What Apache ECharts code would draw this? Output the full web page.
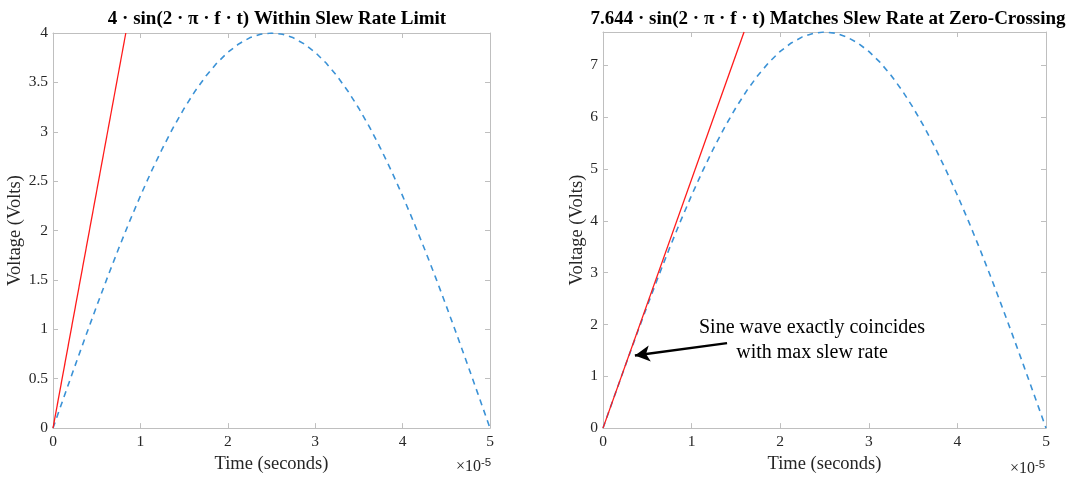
<!DOCTYPE html>
<html>
<head>
<meta charset="utf-8">
<script src="https://cdn.jsdelivr.net/npm/echarts@6/dist/echarts.min.js"></script>
<style>
  html, body { margin: 0; padding: 0; background: #fff; }
  #chart { width: 1089px; height: 479px; }
</style>
</head>
<body>
<div id="chart"></div>
<script>
{
    // time in units of 1e-5 s
    const time = [0, 0.125, 0.25, 0.375, 0.5, 0.625, 0.75, 0.875, 1, 1.125, 1.25, 1.375, 1.5, 1.625, 1.75, 1.875,
        2, 2.125, 2.25, 2.375, 2.5, 2.625, 2.75, 2.875, 3, 3.125, 3.25, 3.375, 3.5, 3.625, 3.75, 3.875,
        4, 4.125, 4.25, 4.375, 4.5, 4.625, 4.75, 4.875, 5];
    const sineLeft = [0, 0.314, 0.626, 0.934, 1.236, 1.531, 1.816, 2.090, 2.351, 2.598, 2.828, 3.042, 3.236, 3.411, 3.564, 3.696,
        3.804, 3.889, 3.951, 3.988, 4, 3.988, 3.951, 3.889, 3.804, 3.696, 3.564, 3.411, 3.236, 3.042, 2.828, 2.598,
        2.351, 2.090, 1.816, 1.531, 1.236, 0.934, 0.626, 0.314, 0];
    const sineRight = [0, 0.600, 1.196, 1.785, 2.362, 2.925, 3.470, 3.994, 4.493, 4.964, 5.405, 5.813, 6.184, 6.518, 6.811, 7.062,
        7.270, 7.433, 7.550, 7.620, 7.644, 7.620, 7.550, 7.433, 7.270, 7.062, 6.811, 6.518, 6.184, 5.813, 5.405, 4.964,
        4.493, 3.994, 3.470, 2.925, 2.362, 1.785, 1.196, 0.600, 0];
    // max slew rate line: [time, volts]
    const slewLeft = [[0, 0], [0.833, 4]];
    const slewRight = [[0, 0], [1.592, 7.644]];
    const yMaxLeft = 4;
    const yMaxRight = 7.644;

    const font = 'Liberation Serif';
    const axisColor = '#bfbfbf';
    const labelColor = '#262626';

    var dom = document.getElementById('chart');
    var myChart = echarts.init(dom);

    function xAxis(grid, pos) {
        const main = pos === 'bottom';
        return {
            type: 'value', gridIndex: grid, position: pos, min: 0, max: 5, interval: 1,
            name: main ? 'Time (seconds)' : '', nameLocation: 'middle', nameGap: 24,
            nameTextStyle: { fontFamily: font, fontSize: 18.5, color: labelColor },
            axisLine: { show: true, onZero: false, lineStyle: { color: axisColor } },
            axisTick: { show: true, inside: true, length: 5, lineStyle: { color: axisColor } },
            axisLabel: { show: main, margin: 6, fontFamily: font, fontSize: 15.5, color: labelColor },
            splitLine: { show: false }
        };
    }
    function yAxis(grid, pos, max, interval, gap) {
        const main = pos === 'left';
        return {
            type: 'value', gridIndex: grid, position: pos, min: 0, max: max, interval: interval,
            name: main ? 'Voltage (Volts)' : '', nameLocation: 'middle', nameGap: gap,
            nameTextStyle: { fontFamily: font, fontSize: 18.5, color: labelColor },
            axisLine: { show: true, onZero: false, lineStyle: { color: axisColor } },
            axisTick: { show: true, inside: true, length: 5, lineStyle: { color: axisColor } },
            axisLabel: { show: main, margin: 5, showMaxLabel: max === yMaxLeft, fontFamily: font, fontSize: 15.5, color: labelColor },
            splitLine: { show: false }
        };
    }

    const sineStyle = { color: '#3b92d6', width: 1.6, type: [6, 5] };
    const redStyle = { color: '#ff1a1a', width: 1.3 };

    const option = {
        animation: false,
        title: [
            { text: '4 · sin(2 · π · f · t) Within Slew Rate Limit', left: 272, top: 5, textAlign: 'center',
              textStyle: { fontFamily: font, fontSize: 19, fontWeight: 'bold', color: '#000' } },
            { text: '7.644 · sin(2 · π · f · t) Matches Slew Rate at Zero-Crossing', left: 823, top: 5, textAlign: 'center',
              textStyle: { fontFamily: font, fontSize: 19, fontWeight: 'bold', color: '#000' } }
        ],
        grid: [
            { left: 53, right: 599, top: 33, bottom: 50 },
            { left: 603, right: 43, top: 32, bottom: 47 }
        ],
        xAxis: [xAxis(0, 'bottom'), xAxis(0, 'top'), xAxis(1, 'bottom'), xAxis(1, 'top')],
        yAxis: [yAxis(0, 'left', yMaxLeft, 0.5, 26), yAxis(0, 'right', yMaxLeft, 0.5, 0),
                yAxis(1, 'left', yMaxRight, 1, 16), yAxis(1, 'right', yMaxRight, 1, 0)],
        series: [
            { type: 'line', xAxisIndex: 0, yAxisIndex: 0, data: time.map((t, i) => [t, sineLeft[i]]),
              showSymbol: false, lineStyle: sineStyle, z: 2 },
            { type: 'line', xAxisIndex: 0, yAxisIndex: 0, data: slewLeft, showSymbol: false, lineStyle: redStyle, z: 3 },
            { type: 'line', xAxisIndex: 2, yAxisIndex: 2, data: time.map((t, i) => [t, sineRight[i]]),
              showSymbol: false, lineStyle: sineStyle, z: 2 },
            { type: 'line', xAxisIndex: 2, yAxisIndex: 2, data: slewRight, showSymbol: false, lineStyle: redStyle, z: 3,
              markLine: {
                  silent: true, symbol: ['none', 'arrow'], symbolSize: [12, 15],
                  label: { show: false },
                  lineStyle: { color: '#000', width: 2.4, type: 'solid' },
                  data: [[{ coord: [1.40, 1.640] }, { coord: [0.36, 1.400] }]]
              } }
        ],
        graphic: [
            { type: 'text', left: 456, top: 457,
              style: { text: '×10{s|-5}', fontFamily: font, fontSize: 16, fill: labelColor,
                       rich: { s: { fontSize: 11.5, verticalAlign: 'top', padding: [0, 0, 8, 0] } } } },
            { type: 'text', left: 1010, top: 459,
              style: { text: '×10{s|-5}', fontFamily: font, fontSize: 16, fill: labelColor,
                       rich: { s: { fontSize: 11.5, verticalAlign: 'top', padding: [0, 0, 8, 0] } } } },
            { type: 'text', x: 812, y: 315,
              style: { text: 'Sine wave exactly coincides\nwith max slew rate', fontFamily: font, fontSize: 20,
                       lineHeight: 25, fill: '#000', align: 'center', verticalAlign: 'top' } }
        ]
    };
    myChart.setOption(option);
}
</script>
</body>
</html>
